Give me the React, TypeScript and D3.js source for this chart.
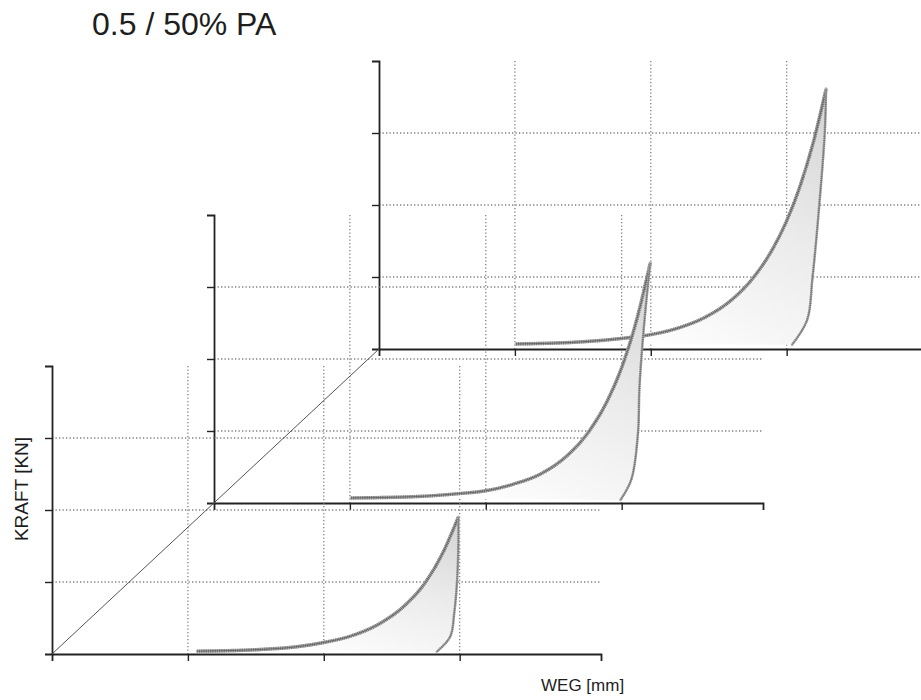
import React, { useEffect, useRef } from "react";
import * as d3 from "d3";

// ---------- text ----------
const titleText = "0.5 / 50% PA";
const yAxisLabel = "KRAFT [KN]";
const xAxisLabel = "WEG [mm]";

// ---------- axis ticks (data units) ----------
const xTickValues = [1, 2, 3];
const yTickValues = [1, 2, 3];
const xDomainMax = 4.04;
const yDomainMax = 4;

// ---------- series: [WEG, KRAFT] in axis units ----------
const frontLoading: [number, number][] = [
  [1.07, 0.04], [1.5, 0.06], [1.8, 0.1], [2.0, 0.16], [2.2, 0.25], [2.4, 0.41],
  [2.6, 0.68], [2.75, 1.0], [2.88, 1.42], [2.99, 1.9],
];
const frontUnloading: [number, number][] = [
  [2.99, 1.9], [2.99, 1.49], [2.98, 0.99], [2.96, 0.57], [2.93, 0.24], [2.83, 0.03],
];
const middleLoading: [number, number][] = [
  [1.01, 0.07], [1.5, 0.09], [1.8, 0.13], [2.0, 0.17], [2.2, 0.26], [2.4, 0.4],
  [2.6, 0.66], [2.75, 0.97], [2.9, 1.44], [3.0, 1.88], [3.1, 2.47], [3.21, 3.33],
];
const middleUnloading: [number, number][] = [
  [3.21, 3.33], [3.18, 2.78], [3.15, 2.14], [3.13, 1.57], [3.12, 0.97], [3.07, 0.32], [2.99, 0.04],
];
const backLoading: [number, number][] = [
  [1.01, 0.07], [1.5, 0.1], [1.8, 0.15], [2.0, 0.2], [2.2, 0.29], [2.4, 0.44],
  [2.6, 0.69], [2.75, 0.98], [2.9, 1.4], [3.0, 1.78], [3.1, 2.27], [3.2, 2.9], [3.29, 3.61],
];
const backUnloading: [number, number][] = [
  [3.29, 3.61], [3.28, 3.0], [3.24, 2.0], [3.19, 0.99], [3.15, 0.4], [3.04, 0.06],
];

// ---------- layout ----------
const W = 921;
const H = 700;
const PW = 549; // panel axis length (x)
const PH = 288; // panel axis length (y)

type Panel = {
  id: string;
  ox: number;
  oy: number;
  loading: [number, number][];
  unloading: [number, number][];
};

const panels: Panel[] = [
  { id: "back", ox: 379, oy: 349, loading: backLoading, unloading: backUnloading },
  { id: "middle", ox: 214, oy: 503, loading: middleLoading, unloading: middleUnloading },
  { id: "front", ox: 52, oy: 654, loading: frontLoading, unloading: frontUnloading },
];

const x = d3.scaleLinear().domain([0, xDomainMax]).range([0, PW]);
const y = d3.scaleLinear().domain([0, yDomainMax]).range([PH, 0]);

const loadGen = d3
  .line<[number, number]>()
  .x((d) => x(d[0]))
  .y((d) => y(d[1]))
  .curve(d3.curveMonotoneX);

const unloadGen = d3
  .line<[number, number]>()
  .x((d) => x(d[0]))
  .y((d) => y(d[1]))
  .curve(d3.curveCatmullRom.alpha(0.5));

const gridStyle = {
  stroke: "#808080",
  strokeWidth: 1.3,
  strokeDasharray: "1.3,2.2",
  fill: "none",
};

function PanelAxes({ p }: { p: Panel }) {
  const xRef = useRef<SVGGElement>(null);
  const yRef = useRef<SVGGElement>(null);
  useEffect(() => {
    const xa = d3
      .axisBottom(x)
      .tickValues(xTickValues)
      .tickSize(7)
      .tickSizeOuter(7)
      .tickFormat(() => "");
    const ya = d3
      .axisLeft(y)
      .tickValues(yTickValues)
      .tickSize(7)
      .tickSizeOuter(7)
      .tickFormat(() => "");
    const gx = d3.select(xRef.current!).call(xa as any);
    const gy = d3.select(yRef.current!).call(ya as any);
    [gx, gy].forEach((g) => {
      g.select(".domain").attr("stroke", "#222").attr("stroke-width", 1.8);
      g.selectAll(".tick line").attr("stroke", "#222").attr("stroke-width", 1.4);
    });
  }, [p]);
  return (
    <g transform={`translate(${p.ox},${p.oy - PH})`}>
      {yTickValues.map((v) => (
        <line key={"h" + v} x1={0} x2={PW} y1={y(v)} y2={y(v)} style={gridStyle} />
      ))}
      {xTickValues.map((v) => (
        <line key={"v" + v} x1={x(v)} x2={x(v)} y1={0} y2={PH} style={gridStyle} />
      ))}
      <g ref={xRef} transform={`translate(0,${PH})`} />
      <g ref={yRef} />
    </g>
  );
}

function PanelCurve({ p }: { p: Panel }) {
  const load = loadGen(p.loading) || "";
  const unload = unloadGen(p.unloading) || "";
  const area = load + unload.replace(/^M/, "L") + "Z";
  const gid = `grad-${p.id}`;
  return (
    <g transform={`translate(${p.ox},${p.oy - PH})`}>
      <defs>
        <linearGradient id={gid} x1="0.95" y1="0" x2="0.35" y2="1">
          <stop offset="0" stopColor="#d4d4d4" />
          <stop offset="0.45" stopColor="#ebebeb" />
          <stop offset="1" stopColor="#ffffff" />
        </linearGradient>
      </defs>
      <path d={area} fill={`url(#${gid})`} stroke="none" />
      <path d={load} fill="none" stroke="#b4b4b4" strokeWidth={3.4} strokeLinecap="round" />
      <path d={load} fill="none" stroke="#6a6a6a" strokeWidth={3.4} strokeDasharray="0.7,1.1" />
      <path d={load} fill="none" stroke="#555" strokeWidth={0.7} />
      <path d={unload} fill="none" stroke="#b8b8b8" strokeWidth={2.4} strokeLinecap="round" />
      <path d={unload} fill="none" stroke="#777" strokeWidth={2.4} strokeDasharray="0.7,1.2" />
      <path d={unload} fill="none" stroke="#666" strokeWidth={0.6} />
    </g>
  );
}

export default function App() {
  const first = panels[2];
  const last = panels[0];
  return (
    <svg
      width={W}
      height={H}
      viewBox={`0 0 ${W} ${H}`}
      style={{ position: "absolute", left: 0, top: 0, background: "#fff" }}
      fontFamily="'Liberation Sans', Arial, sans-serif"
    >
      <rect width={W} height={H} fill="#fff" />
      <text x={92} y={35} fontSize={32} fill="#1e1e1e">
        {titleText}
      </text>
      {panels.map((p) => (
        <PanelAxes key={"a" + p.id} p={p} />
      ))}
      <line
        x1={first.ox}
        y1={first.oy}
        x2={last.ox}
        y2={last.oy}
        stroke="#555"
        strokeWidth={1}
      />
      {panels.map((p) => (
        <PanelCurve key={"c" + p.id} p={p} />
      ))}
      <text
        transform="translate(28,489) rotate(-90)"
        textAnchor="middle"
        fontSize={19}
        fill="#1e1e1e"
      >
        {yAxisLabel}
      </text>
      <text x={541} y={691} fontSize={17} fill="#1e1e1e">
        {xAxisLabel}
      </text>
    </svg>
  );
}
